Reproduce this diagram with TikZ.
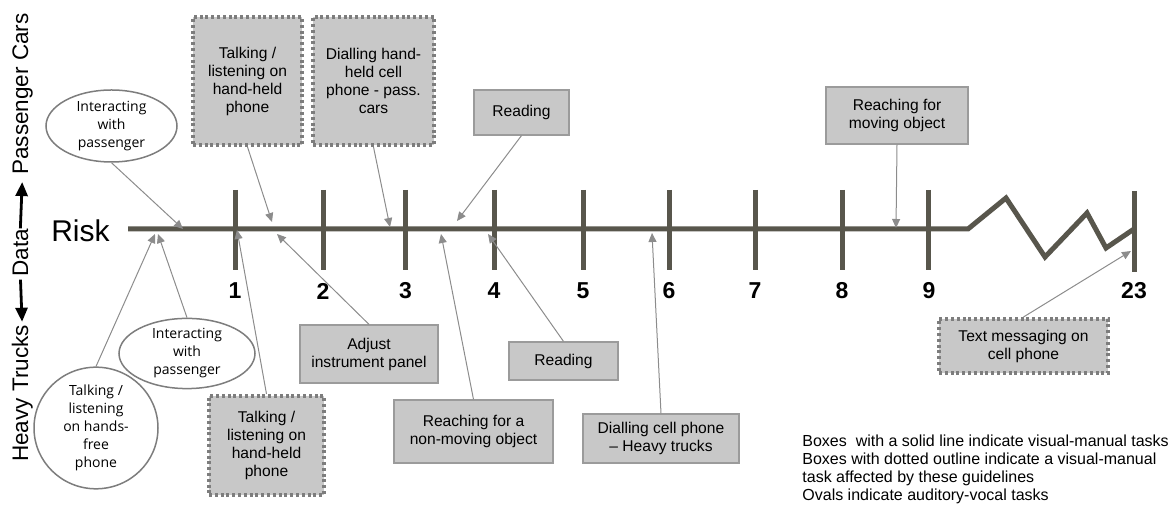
\documentclass[tikz,border=0pt]{standalone}
\usepackage{fontspec}
\setmainfont{Liberation Sans}
\newfontfamily\ovalfont{Open Sans}
\usetikzlibrary{arrows.meta,shapes.geometric}
\definecolor{axisgray}{RGB}{88,86,76}
\definecolor{boxgray}{RGB}{200,200,200}
\definecolor{edgegray}{RGB}{155,155,155}
\definecolor{dotgray}{RGB}{125,125,125}
\definecolor{arrowgray}{RGB}{140,140,140}

\begin{document}
\begin{tikzpicture}[x=0.5pt, y=-0.5pt,
        solidbox/.style={draw=edgegray, fill=boxgray, line width=0.6pt, align=center, inner sep=0pt, font=\fontsize{7.8}{9}\selectfont},
        dotbox/.style={draw=dotgray, fill=boxgray, line width=2pt, dash pattern=on 1.5pt off 1.4pt, align=center, inner sep=0pt, font=\fontsize{7.8}{9}\selectfont},
        oval/.style={ellipse, draw=dotgray, fill=white, line width=0.75pt, align=center, inner sep=0pt, font=\ovalfont\fontsize{7}{9}\selectfont},
        pointer/.style={draw=arrowgray, line width=0.5pt, -{Triangle[length=4.5pt, width=4pt]}},
        axisline/.style={draw=axisgray, line width=2.5pt},
        ticklabel/.style={font=\bfseries\fontsize{11.5}{12}\selectfont, inner sep=0pt},
        sidelabel/.style={rotate=90, anchor=base, inner sep=0pt, font=\fontsize{11.25}{12}\selectfont},
        sidearrow/.style={line width=1.4pt, -{Triangle[length=7pt, width=6pt]}}]
            \useasboundingbox (0,0) rectangle (1173,506);

            \node[sidelabel] (passcars) at (28,94) {Passenger Cars};
            \node[sidelabel] (data) at (28,252.5) {Data};
            \node[sidelabel] (trucks) at (28,393.5) {Heavy Trucks};
            \draw[sidearrow, shorten >=3.5pt] (data.east) -- (passcars.west);
            \draw[sidearrow, shorten <=1.5pt, shorten >=1.5pt] (data.west) -- (trucks.east);

            \node[font=\fontsize{15}{16}\selectfont, inner sep=0pt] (risk) at (80.5,231) {Risk};

            \draw[axisline] (128,229) -- (968,229) -- (1006,198) -- (1045,257) -- (1087,213) -- (1106,248) -- (1134,229);
            \draw[axisline] (235,190) -- (235,270);
            \draw[axisline] (323,190) -- (323,270);
            \draw[axisline] (405,190) -- (405,270);
            \draw[axisline] (494,190) -- (494,270);
            \draw[axisline] (583,190) -- (583,270);
            \draw[axisline] (669,190) -- (669,270);
            \draw[axisline] (755,190) -- (755,270);
            \draw[axisline] (842,190) -- (842,270);
            \draw[axisline] (928,190) -- (928,270);
            \draw[axisline] (1134,191) -- (1134,272);

            \node[ticklabel] (n1) at (235,291) {1};
            \node[ticklabel] (n2) at (323,291) {2};
            \node[ticklabel] (n3) at (405.5,291) {3};
            \node[ticklabel] (n4) at (494,291) {4};
            \node[ticklabel] (n5) at (583,291) {5};
            \node[ticklabel] (n6) at (669,291) {6};
            \node[ticklabel] (n7) at (755,291) {7};
            \node[ticklabel] (n8) at (842,291) {8};
            \node[ticklabel] (n9) at (929,291) {9};
            \node[ticklabel] (n23) at (1134,291) {23};

            \node[oval, minimum width=65.5pt, minimum height=36pt] (chatcar) at (111.5,126) {Interacting\\with\\passenger};
            \node[dotbox, minimum width=54.5pt, minimum height=64pt] (talkcar) at (247.5,81) {Talking /\\listening on\\hand-held\\phone};
            \node[dotbox, minimum width=60.5pt, minimum height=64pt] (dialcar) at (373.5,81) {Dialling hand-\\held cell\\phone - pass.\\cars};
            \node[solidbox, minimum width=47.5pt, minimum height=22.5pt] (readcar) at (521.5,112.5) {Reading};
            \node[solidbox, minimum width=71pt, minimum height=28.5pt] (reachcar) at (897,115.5) {Reaching for\\moving object};

            \node[oval, minimum width=62pt, minimum height=50pt] (freetruck) at (96,428) {Talking /\\listening\\on hands-\\free\\phone};
            \node[oval, minimum width=68pt, minimum height=33.5pt] (chattruck) at (187,353.5) {Interacting\\with\\passenger};
            \node[dotbox, minimum width=57.5pt, minimum height=49.5pt] (talktruck) at (266.5,445.5) {Talking /\\listening on\\hand-held\\phone};
            \node[solidbox, minimum width=69pt, minimum height=29pt] (adjust) at (369,354) {Adjust\\instrument panel};
            \node[solidbox, minimum width=79.5pt, minimum height=31.5pt] (reachtruck) at (473.5,431.5) {Reaching for a\\non-moving object};
            \node[solidbox, minimum width=54.5pt, minimum height=19pt] (readtruck) at (563.5,361) {Reading};
            \node[solidbox, minimum width=78pt, minimum height=24.5pt] (dialtruck) at (661,438.5) {Dialling cell phone\\– Heavy trucks};
            \node[dotbox, minimum width=84.5pt, minimum height=27pt] (texting) at (1023.5,346) {Text messaging on\\cell phone};

            \node[anchor=north west, align=left, inner sep=0pt, font=\fontsize{8}{9}\selectfont] (legend) at (802,435) {Boxes \ with a solid line indicate visual-manual tasks\\Boxes with dotted outline indicate a visual-manual\\task affected by these guidelines\\Ovals indicate auditory-vocal tasks};

            \coordinate (pchatcar) at (183,229);
            \coordinate (ptalkcar) at (272,222);
            \coordinate (pdialcar) at (390,227);
            \coordinate (preadcar) at (457,221);
            \coordinate (preachcar) at (896,228);
            \coordinate (pfreetruck) at (155,234);
            \coordinate (pchattruck) at (158,234);
            \coordinate (ptalktruck) at (237,230);
            \coordinate (padjust) at (277,234);
            \coordinate (preachtruck) at (441,234);
            \coordinate (preadtruck) at (488,234);
            \coordinate (pdialtruck) at (652,233);
            \coordinate (ptexting) at (1131,251);

            \draw[pointer] (chatcar.south) -- (pchatcar);
            \draw[pointer] (talkcar.south) -- (ptalkcar);
            \draw[pointer] (dialcar.south) -- (pdialcar);
            \draw[pointer] (readcar.south) -- (preadcar);
            \draw[pointer] (reachcar.south) -- (preachcar);
            \draw[pointer] (freetruck.north) -- (pfreetruck);
            \draw[pointer] (chattruck.north) -- (pchattruck);
            \draw[pointer] (talktruck.north) -- (ptalktruck);
            \draw[pointer] (adjust.north) -- (padjust);
            \draw[pointer] (reachtruck.north) -- (preachtruck);
            \draw[pointer] (readtruck.north) -- (preadtruck);
            \draw[pointer] (dialtruck.north) -- (pdialtruck);
            \draw[pointer] (texting.north) -- (ptexting);
        \end{tikzpicture}
\end{document}
